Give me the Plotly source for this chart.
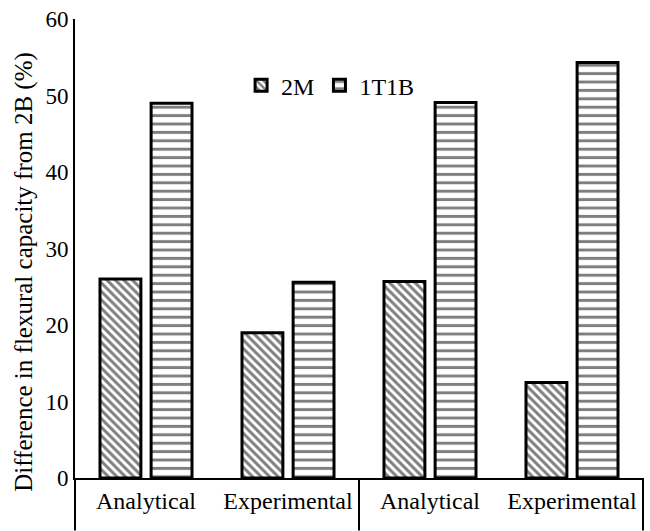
import plotly.graph_objects as go

categories = ["Analytical", "Experimental", "Analytical ", "Experimental "]
tick_text = ["Analytical", "Experimental", "Analytical", "Experimental"]
series_names = ["2M", "1T1B"]
values_2m = [26.0, 19.0, 25.7, 12.5]
values_1t1b = [49.0, 25.6, 49.1, 54.3]
y_ticks = [0, 10, 20, 30, 40, 50, 60]
y_title = "Difference in flexural capacity from 2B (%)"

FONT = "Liberation Serif, Times New Roman, serif"
PLOT_H = 531 - 15 - 53
PLOT_W = 650 - 75 - 7

fig = go.Figure()
fig.add_trace(go.Bar(
    name=series_names[0], x=categories, y=values_2m,
    marker=dict(color="white", line=dict(color="black", width=3),
                pattern=dict(shape="\\", fgcolor="black", bgcolor="white",
                             size=6, solidity=0.5)),
))
fig.add_trace(go.Bar(
    name=series_names[1], x=categories, y=values_1t1b,
    marker=dict(color="white", line=dict(color="black", width=3),
                pattern=dict(shape="-", fgcolor="black", bgcolor="white",
                             size=8.4, solidity=0.35)),
))

fig.update_layout(
    width=650, height=531,
    margin=dict(l=75, r=7, t=15, b=53),
    paper_bgcolor="white", plot_bgcolor="white",
    font=dict(family=FONT, size=23, color="black"),
    barmode="group", bargap=0.28, bargroupgap=0.2,
    showlegend=True,
    legend=dict(orientation="h", x=0.45, y=0.855, xanchor="center", yanchor="middle",
                font=dict(family=FONT, size=24), bgcolor="rgba(0,0,0,0)", itemwidth=30,
                tracegroupgap=0),
)
fig.update_xaxes(
    type="category", categoryorder="array", categoryarray=categories,
    tickvals=categories, ticktext=tick_text,
    showline=True, linecolor="black", linewidth=2, ticks="",
    showgrid=False, zeroline=False, range=[-0.5, 3.5],
    tickfont=dict(family=FONT, size=24),
)
fig.update_yaxes(
    range=[0, 60], tickvals=y_ticks, showline=True, linecolor="black", linewidth=2,
    ticks="", showgrid=False, zeroline=False,
    tickfont=dict(family=FONT, size=23),
)
fig.add_annotation(
    text=y_title, textangle=-90, xref="paper", yref="paper",
    x=(24 - 75) / PLOT_W, y=(478 - 270) / PLOT_H, xanchor="center", yanchor="middle",
    showarrow=False, font=dict(family=FONT, size=25, color="black"),
)
# extensions of axis frame below the category axis
for xp in [0.0, 0.5, 1.0]:
    fig.add_shape(type="line", xref="paper", yref="paper", x0=xp, x1=xp,
                  y0=0, y1=-53 / PLOT_H, line=dict(color="black", width=2))

fig.write_html("out.html")
